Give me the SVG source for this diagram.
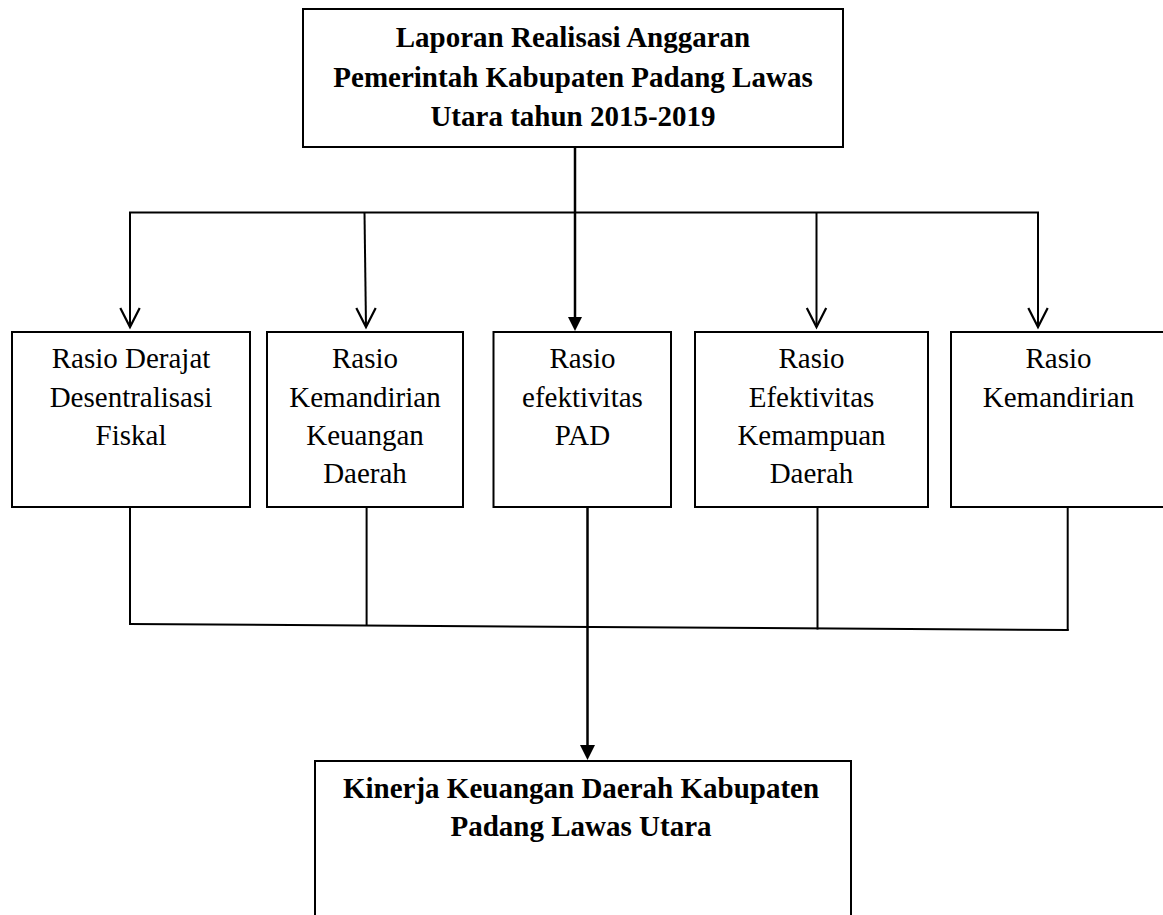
<svg xmlns="http://www.w3.org/2000/svg" width="1163" height="915" viewBox="0 0 1163 915">
<defs>
<style>
.box{fill:#fff;stroke:#000;stroke-width:2}
.bt{font-size:29px;font-weight:bold;fill:#000;text-anchor:middle}
.rt{font-size:29px;fill:#000;text-anchor:middle}
.ln{fill:none;stroke:#000;stroke-width:2}
.ln2{fill:none;stroke:#000;stroke-width:2.5}
.open{fill:none;stroke:#000;stroke-width:2.2;stroke-linejoin:miter}
</style>
</defs>
<rect width="1163" height="915" fill="#fff"/>
<g id="connectors">
<line class="ln2" x1="575" y1="147" x2="575" y2="318"/>
<polyline class="ln" points="130,327 130,212.5 1038,212.5 1038,327"/>
<line class="ln" x1="364.5" y1="212.5" x2="366" y2="327"/>
<line class="ln" x1="816.5" y1="212.5" x2="816.5" y2="327"/>
<polyline class="open" points="120.3,308 130,327 139.7,308"/>
<polyline class="open" points="356.3,308 366,327 375.7,308"/>
<polyline class="open" points="806.8,308 816.5,327 826.2,308"/>
<polyline class="open" points="1028.3,308 1038,327 1047.7,308"/>
<polygon points="568,317 582,317 575,331" fill="#000"/>
<line class="ln" x1="130" y1="507" x2="130" y2="624"/>
<line class="ln" x1="366.6" y1="507" x2="366.6" y2="626"/>
<line class="ln" x1="817.5" y1="507" x2="817.5" y2="629.5"/>
<line class="ln" x1="1067.7" y1="507" x2="1067.7" y2="630.5"/>
<line class="ln" x1="129" y1="624" x2="1068.7" y2="630"/>
<line class="ln2" x1="587.5" y1="507" x2="587.5" y2="746"/>
<polygon points="580,745 595,745 587.5,760" fill="#000"/>
</g>
<g font-family="Liberation Serif, Times New Roman, DejaVu Serif, serif">
<g id="node-top">
<rect class="box" x="303" y="9" width="540" height="138" stroke-width="2.5"/>
<text class="bt" x="573" y="47">Laporan Realisasi Anggaran</text>
<text class="bt" x="573" y="87">Pemerintah Kabupaten Padang Lawas</text>
<text class="bt" x="573" y="126">Utara tahun 2015-2019</text>
</g>
<g id="node-1">
<rect class="box" x="12" y="332" width="238" height="175"/>
<text class="rt" x="131" y="368">Rasio Derajat</text>
<text class="rt" x="131" y="407">Desentralisasi</text>
<text class="rt" x="131" y="445">Fiskal</text>
</g>
<g id="node-2">
<rect class="box" x="267" y="332" width="196" height="175"/>
<text class="rt" x="365" y="368">Rasio</text>
<text class="rt" x="365" y="407">Kemandirian</text>
<text class="rt" x="365" y="445">Keuangan</text>
<text class="rt" x="365" y="483">Daerah</text>
</g>
<g id="node-3">
<rect class="box" x="493.5" y="332" width="177.5" height="175"/>
<text class="rt" x="582.5" y="368">Rasio</text>
<text class="rt" x="582.5" y="407">efektivitas</text>
<text class="rt" x="582.5" y="445">PAD</text>
</g>
<g id="node-4">
<rect class="box" x="695" y="332" width="233" height="175"/>
<text class="rt" x="811.5" y="368">Rasio</text>
<text class="rt" x="811.5" y="407">Efektivitas</text>
<text class="rt" x="811.5" y="445">Kemampuan</text>
<text class="rt" x="811.5" y="483">Daerah</text>
</g>
<g id="node-5">
<rect class="box" x="951" y="332" width="215" height="175"/>
<text class="rt" x="1058.5" y="368">Rasio</text>
<text class="rt" x="1058.5" y="407">Kemandirian</text>
</g>
<g id="node-bottom">
<rect class="box" x="315" y="761" width="536" height="170"/>
<text class="bt" x="581" y="798">Kinerja Keuangan Daerah Kabupaten</text>
<text class="bt" x="581" y="836">Padang Lawas Utara</text>
</g>
</g>
</svg>
